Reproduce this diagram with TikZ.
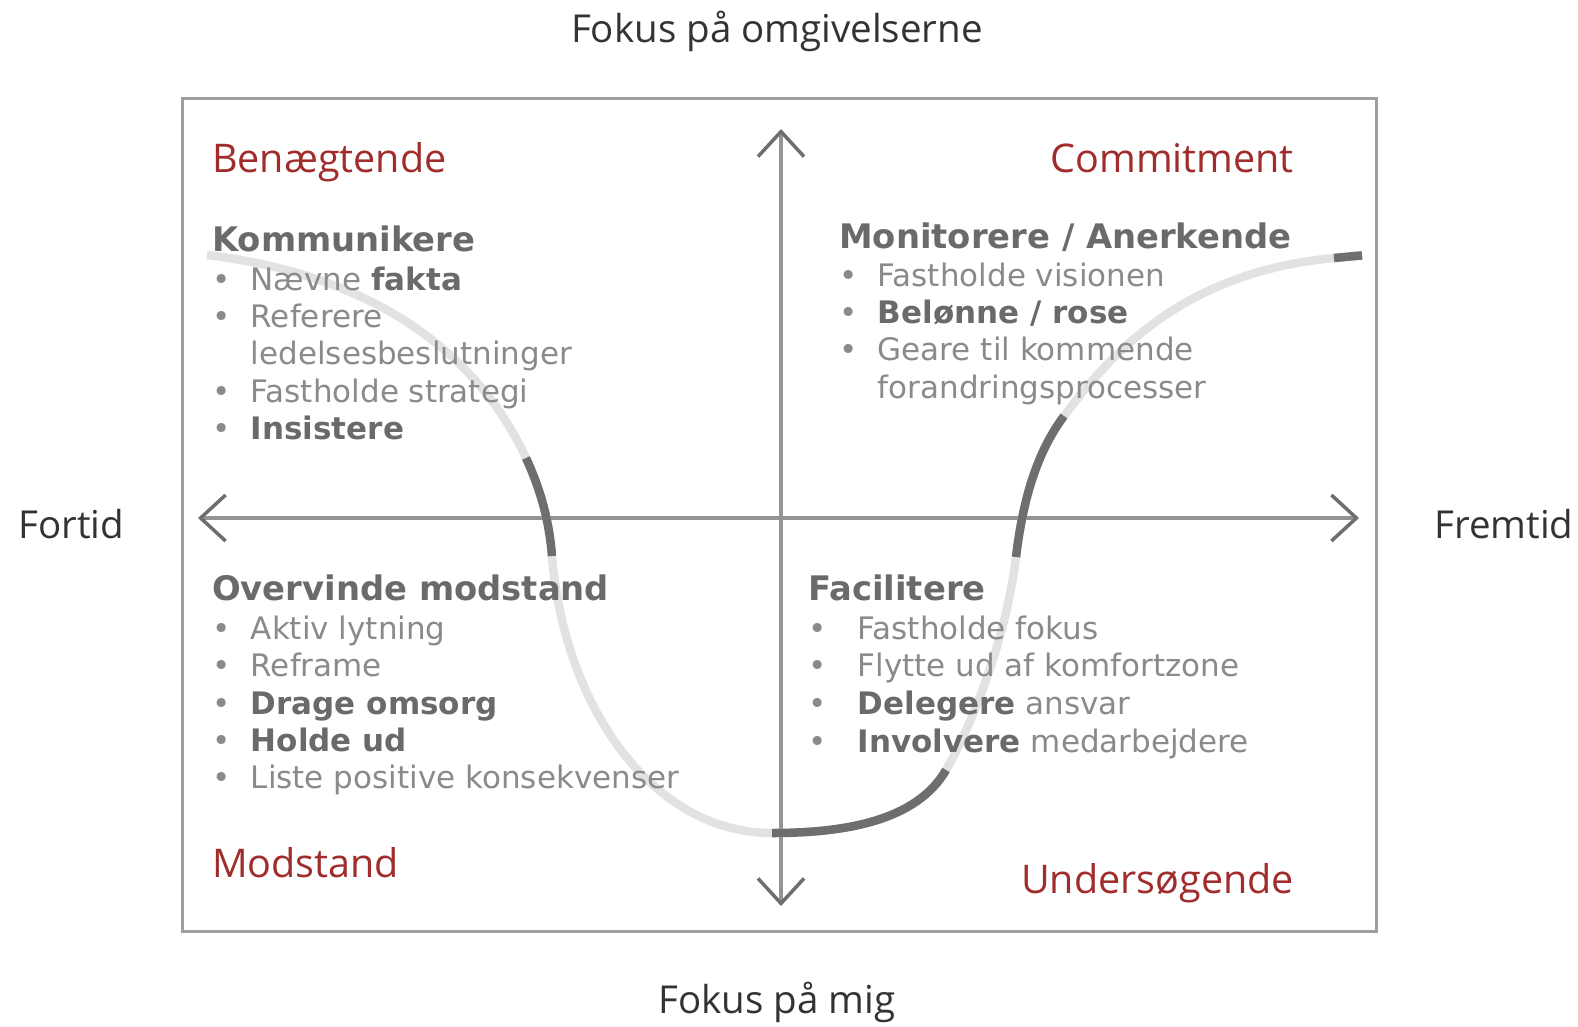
\documentclass[tikz,border=0pt]{standalone}
\usepackage{fontspec}
\setmainfont{Open Sans}
\newfontfamily\qfont{DejaVu Sans}
\usetikzlibrary{arrows.meta}

\definecolor{framegray}{HTML}{9E9E9E}
\definecolor{axisgray}{HTML}{949494}
\definecolor{tipgray}{HTML}{6E6E6E}
\definecolor{curvelight}{HTML}{E2E2E2}
\definecolor{curvedark}{HTML}{6E6E6E}
\definecolor{headgray}{HTML}{6A6A6A}
\definecolor{itemgray}{HTML}{8A8A8A}
\definecolor{phasered}{HTML}{A02C2C}
\definecolor{labelgray}{HTML}{333333}

\newcommand\qstrong[1]{{\bfseries\color{headgray}#1}}

\begin{document}
\begin{tikzpicture}[x=1pt,y=-1pt,
  framebox/.style={draw=framegray, line width=3pt},
  axis/.style={draw=axisgray, line width=3.5pt,
    {Straight Barb[length=25pt,width=46pt,color=tipgray]}-{Straight Barb[length=25pt,width=46pt,color=tipgray]}},
  lightcurve/.style={draw=curvelight, line width=8.5pt},
  darkcurve/.style={draw=curvedark, line width=8.5pt},
  axlabel/.style={inner sep=0pt, text=labelgray, font=\fontsize{38.5}{46}\selectfont},
  phase/.style={inner sep=0pt, text=phasered, font=\fontsize{39.5}{47}\selectfont},
  qhead/.style={anchor=base west, inner sep=0pt, text=headgray, font=\qfont\bfseries\fontsize{33.8}{40}\selectfont},
  qtext/.style={anchor=base west, inner sep=0pt, text=itemgray, font=\qfont\fontsize{31}{37}\selectfont},
  qdot/.style={anchor=base west, inner sep=0pt, text=itemgray, font=\qfont\fontsize{31}{37}\selectfont},
]
\useasboundingbox (0,0) rectangle (1578,1027);

% outer frame
\draw[framebox] (182,99) rectangle (1376,931);

% axes
\coordinate (west)  at (198,518);
\coordinate (east)  at (1359,518);
\coordinate (north) at (781,129);
\coordinate (south) at (781,906);
\draw[axis] (west) -- (east);
\draw[axis] (north) -- (south);

% change curve knots
\coordinate (P0) at (207,255);
\coordinate (P1) at (526,458);
\coordinate (P2) at (552,556);
\coordinate (P3) at (772,833);
\coordinate (P4) at (946,770);
\coordinate (P5) at (1016,557);
\coordinate (P6) at (1064,416);
\coordinate (P7) at (1334,258);
\coordinate (P8) at (1362,255.4);

\draw[lightcurve] (P0) .. controls (357,273) and (471,340) .. (P1)
  .. controls (540.7,489.9) and (549.2,521) .. (P2)
  .. controls (564,706) and (652,833) .. (P3)
  .. controls (842,833) and (916,822) .. (P4)
  .. controls (968.5,731) and (1005,646) .. (P5)
  .. controls (1022,507.5) and (1034,456) .. (P6)
  .. controls (1112,352) and (1184,272) .. (P7) -- (P8);

\draw[darkcurve] (P1) .. controls (540.7,489.9) and (549.2,521) .. (P2);
\draw[darkcurve] (P3) .. controls (842,833) and (916,822) .. (P4);
\draw[darkcurve] (P5) .. controls (1022,507.5) and (1034,456) .. (P6);
\draw[darkcurve] (P7) -- (P8);

% axis labels
\node[axlabel, anchor=base] (top) at (777,43) {Fokus på omgivelserne};
\node[axlabel, anchor=base] (bottom) at (777,1013) {Fokus på mig};
\node[axlabel, anchor=base west] (past) at (18,538) {Fortid};
\node[axlabel, anchor=base west] (future) at (1434,538) {Fremtid};

% phase labels
\node[phase, anchor=base west] (denial) at (212,172) {Benægtende};
\node[phase, anchor=base east] (commit) at (1294,172) {Commitment};
\node[phase, anchor=base west] (resist) at (212,877) {Modstand};
\node[phase, anchor=base east] (explore) at (1294,893) {Undersøgende};

% top left quadrant
\node[qhead] (tlh) at (212,251) {Kommunikere};
\node[qdot] (tlb1) at (212,290) {•};
\node[qtext] (tlt1) at (250.6,290) {Nævne \qstrong{fakta}};
\node[qdot] (tlb2) at (212,327.5) {•};
\node[qtext] (tlt2) at (250.6,327.5) {Referere};
\node[qtext] (tlt3) at (250.6,364.7) {ledelsesbeslutninger};
\node[qdot] (tlb4) at (212,402) {•};
\node[qtext] (tlt4) at (250.6,402) {Fastholde strategi};
\node[qdot] (tlb5) at (212,439.2) {•};
\node[qtext] (tlt5) at (250.6,439.2) {\qstrong{Insistere}};

% top right quadrant
\node[qhead] (trh) at (839,248) {Monitorere / Anerkende};
\node[qdot] (trb1) at (839,286.2) {•};
\node[qtext] (trt1) at (877.6,286.2) {Fastholde visionen};
\node[qdot] (trb2) at (839,323.5) {•};
\node[qtext] (trt2) at (877.6,323.5) {\qstrong{Belønne / rose}};
\node[qdot] (trb3) at (839,360.7) {•};
\node[qtext] (trt3) at (877.6,360.7) {Geare til kommende};
\node[qtext] (trt4) at (877.6,398) {forandringsprocesser};

% bottom left quadrant
\node[qhead] (blh) at (212,600.2) {Overvinde modstand};
\node[qdot] (blb1) at (212,639.5) {•};
\node[qtext] (blt1) at (250.6,639.5) {Aktiv lytning};
\node[qdot] (blb2) at (212,676.7) {•};
\node[qtext] (blt2) at (250.6,676.7) {Reframe};
\node[qdot] (blb3) at (212,714) {•};
\node[qtext] (blt3) at (250.6,714) {\qstrong{Drage omsorg}};
\node[qdot] (blb4) at (212,751.2) {•};
\node[qtext] (blt4) at (250.6,751.2) {\qstrong{Holde ud}};
\node[qdot] (blb5) at (212,788.5) {•};
\node[qtext] (blt5) at (250.6,788.5) {Liste positive konsekvenser};

% bottom right quadrant
\node[qhead] (brh) at (808,600.2) {Facilitere};
\node[qdot] (brb1) at (808,639.5) {•};
\node[qtext] (brt1) at (857.5,639.5) {Fastholde fokus};
\node[qdot] (brb2) at (808,676.7) {•};
\node[qtext] (brt2) at (857.5,676.7) {Flytte ud af komfortzone};
\node[qdot] (brb3) at (808,714) {•};
\node[qtext] (brt3) at (857.5,714) {\qstrong{Delegere} ansvar};
\node[qdot] (brb4) at (808,752.2) {•};
\node[qtext] (brt4) at (857.5,752.2) {\qstrong{Involvere} medarbejdere};
\end{tikzpicture}
\end{document}
